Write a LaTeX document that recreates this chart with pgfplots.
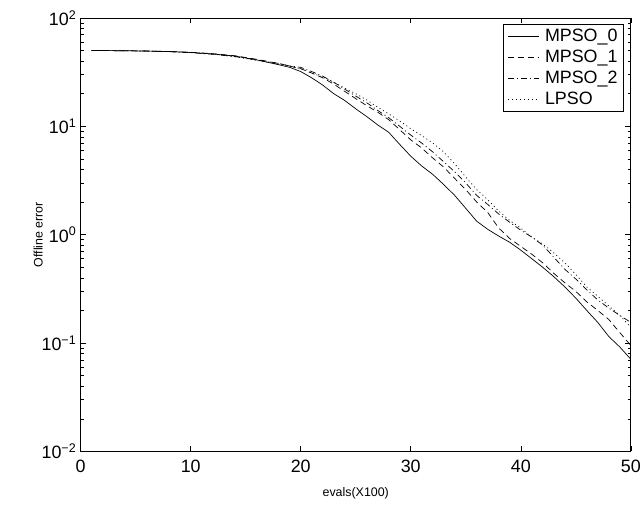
\documentclass[border=0pt]{standalone}
\usepackage{fontspec}
\setmainfont{Liberation Sans}
\usepackage{pgfplots}
\usepackage{pgfplotstable}
\pgfplotsset{compat=1.18}

\pgfplotstableread{
x  m0    m1    m2    lp
1  50    50    50    50
2  50    50    50    50
4  49.8  49.8  49.8  49.8
6  49.5  49.5  49.4  49.5
8  49    49    48.8  49
10 48    48.2  47.8  48
12 46.5  46.8  46.2  46.5
14 44.5  44.8  44    44
16 41    41.5  41    40.5
18 37    38    38    37.5
19 35    36    36    35.5
20 32    34    35    34
21 28    31    32    31
22 24    28    29    28.5
23 20    24.5  25.5  25.5
24 17.3  21    22    22.5
25 14.5  18    19    20
26 12.3  15.5  16.5  17.5
27 10.3  13.5  14    15
28 8.8   11.5  12    13
29 6.8   9.3   10    11.2
30 5.3   7.5   8.3   9.5
31 4.3   6.3   7     8.2
32 3.6   5.1   5.8   7.0
33 2.9   4.2   4.7   5.8
34 2.3   3.3   3.8   4.5
35 1.75  2.6   3.0   3.4
36 1.33  2.0   2.3   2.6
37 1.12  1.6   1.9   2.1
38 0.97  1.15  1.55  1.65
39 0.85  0.92  1.3   1.35
40 0.72  0.78  1.1   1.15
41 0.6   0.66  0.95  0.95
42 0.5   0.55  0.8   0.82
43 0.41  0.44  0.62  0.68
44 0.33  0.36  0.48  0.55
45 0.26  0.3   0.39  0.43
46 0.2   0.24  0.31  0.33
47 0.155 0.2   0.25  0.27
48 0.115 0.165 0.21  0.22
49 0.092 0.125 0.18  0.18
50 0.071 0.095 0.155 0.14
}\errdata

\begin{document}
\begin{tikzpicture}
\begin{axis}[
    scale only axis,
    width=552bp, height=435bp,
    ymode=log,
    xmin=0, xmax=50,
    ymin=1e-2, ymax=1e2,
    xtick={0,10,20,30,40,50},
    ytick={1e-2,1e-1,1,10,100},
    yticklabels={10\textsuperscript{−2},10\textsuperscript{−1},10\textsuperscript{0},10\textsuperscript{1},10\textsuperscript{2}},
    /pgf/number format/assume math mode=true,
    tick align=inside,
    major tick length=5.5bp,
    minor tick length=3bp,
    tick style={black, line width=0.5bp},
    axis line style={line width=0.8bp},
    ticklabel style={font=\fontsize{18}{21}\selectfont},
    xticklabel style={yshift=-5bp},
    yticklabel style={xshift=-1bp},
    xlabel={evals(X100)},
    ylabel={Offline error},
    label style={font=\fontsize{12.5}{14}\selectfont},
    xlabel style={yshift=-8bp},
    ylabel style={yshift=-8bp},
    legend style={at={(1,1)}, anchor=north east, xshift=-7bp, yshift=-6bp,
        font=\fontsize{18}{21}\selectfont, draw=black, line width=0.6bp,
        row sep=3bp, inner xsep=4bp, inner ysep=3bp},
    legend cell align=left,
    legend image code/.code={\draw[#1, line width=0.6bp] (0bp,0bp) -- (31bp,0bp); \path (35bp,0bp);},
]
\addplot[black, line width=0.7bp] table[x=x, y=m0] {\errdata};
\addplot[black, line width=0.7bp, dash pattern=on 6bp off 4bp] table[x=x, y=m1] {\errdata};
\addplot[black, line width=0.7bp, dash pattern=on 6bp off 3bp on 1bp off 3bp] table[x=x, y=m2] {\errdata};
\addplot[black, line width=0.7bp, dash pattern=on 1bp off 3bp] table[x=x, y=lp] {\errdata};
\legend{MPSO\_0, MPSO\_1, MPSO\_2, LPSO}
\end{axis}
\path[use as bounding box] ([shift={(-81bp,-54bp)}]current axis.south west) rectangle ([shift={(11bp,18bp)}]current axis.north east);
\end{tikzpicture}
\end{document}
